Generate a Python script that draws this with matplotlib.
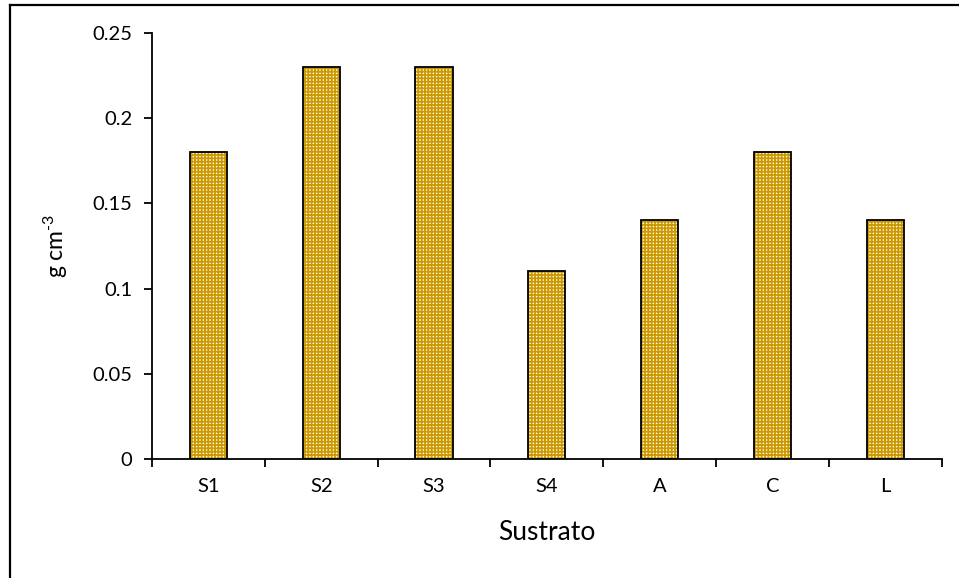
import matplotlib.pyplot as plt
from matplotlib.lines import Line2D
import numpy as np

plt.rcParams['font.family'] = ['Lato', 'DejaVu Sans']
plt.rcParams['mathtext.default'] = 'regular'
plt.rcParams['hatch.linewidth'] = 1.3

# data
sustratos = ['S1', 'S2', 'S3', 'S4', 'A', 'C', 'L']
densidad = [0.18, 0.23, 0.23, 0.11, 0.14, 0.18, 0.14]
y_ticks = [0, 0.05, 0.1, 0.15, 0.2, 0.25]
y_labels = ['0', '0.05', '0.1', '0.15', '0.2', '0.25']

fig = plt.figure(figsize=(9.59, 5.78), dpi=100)
ax = fig.add_axes([0.1585, 0.206, 0.8235, 0.737])

x = np.arange(len(sustratos))
# gold grid on white leaves small white squares, black outline on top
ax.bar(x, densidad, width=0.33, color='white', edgecolor='#CC9900',
       hatch='+++++', linewidth=0)
ax.bar(x, densidad, width=0.33, fill=False, edgecolor='black', linewidth=1.3)

ax.set_xlim(-0.5, len(sustratos) - 0.5)
ax.set_ylim(0, 0.25)
ax.set_yticks(y_ticks)
ax.set_yticklabels(y_labels, fontsize=14.5)

# category boundary ticks, labels centred without ticks
ax.set_xticks(np.arange(len(sustratos) + 1) - 0.5)
ax.set_xticklabels([])
ax.set_xticks(x, minor=True)
ax.set_xticklabels(sustratos, minor=True, fontsize=14.5)
ax.tick_params(axis='x', which='minor', length=0, pad=14)
ax.tick_params(axis='x', which='major', direction='out', length=6, width=1.3)
ax.tick_params(axis='y', direction='out', length=6, width=1.3, pad=8)

for s in ['top', 'right']:
    ax.spines[s].set_visible(False)
for s in ['left', 'bottom']:
    ax.spines[s].set_linewidth(1.3)

ax.set_xlabel('Sustrato', fontsize=19, labelpad=18)
ax.set_ylabel('g cm$^{\u2010 3}$', fontsize=16.5, labelpad=16)

# outer chart frame (right and bottom edges fall outside the image)
fx, fy = 9.5 / 959, 1 - 4.5 / 578
fig.add_artist(Line2D([fx, fx], [-0.01, fy], color='black', lw=1.6, transform=fig.transFigure))
fig.add_artist(Line2D([fx, 1.01], [fy, fy], color='black', lw=1.6, transform=fig.transFigure))

fig.savefig('out.png', dpi=100)
